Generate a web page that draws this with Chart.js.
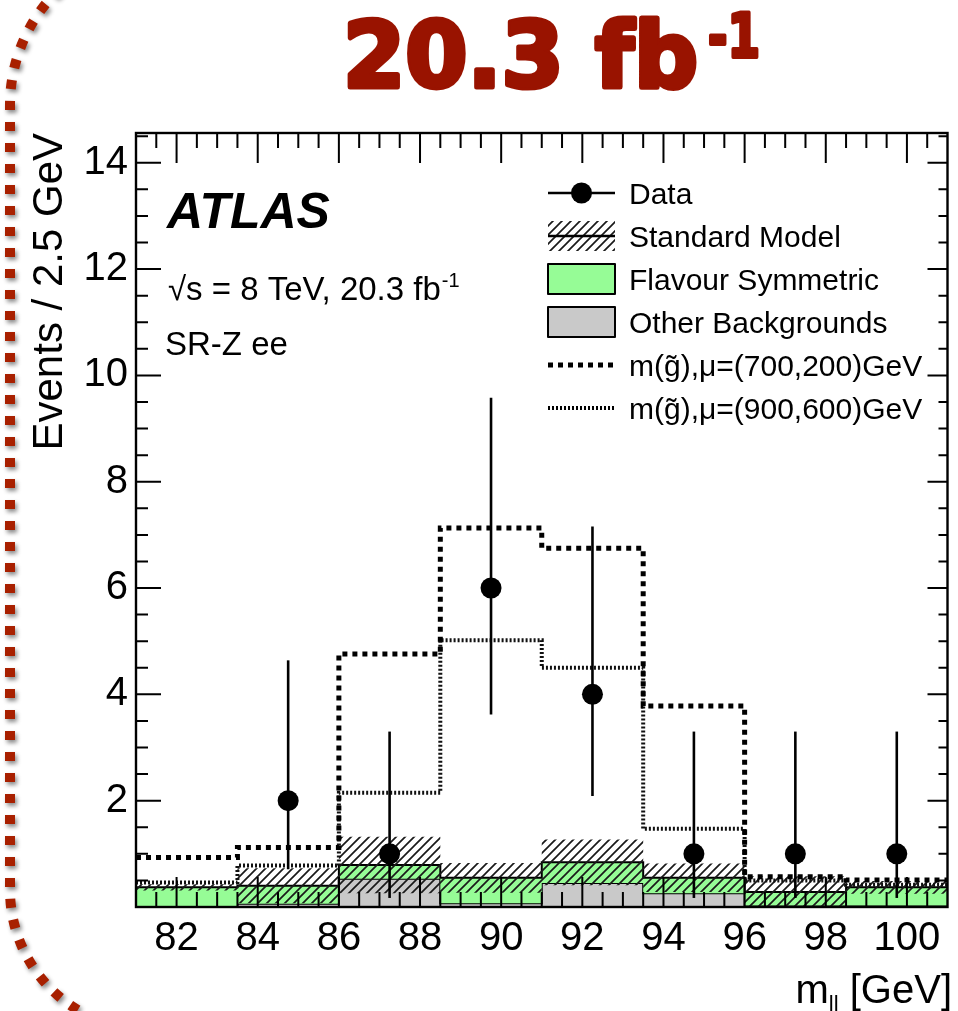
<!DOCTYPE html>
<html>
<head>
<meta charset="utf-8">
<script src="https://cdn.jsdelivr.net/npm/chart.js@4.4.0/dist/chart.umd.min.js"></script>
<style>
  html, body { margin: 0; padding: 0; background: #fff; }
  canvas { display: block; }
</style>
</head>
<body>
<canvas id="myChart" width="958" height="1011"></canvas>
<script>
// m_ll bins, 2.5 GeV wide
var binEdges = [81, 83.5, 86, 88.5, 91, 93.5, 96, 98.5, 101];

// observed events with poisson error band (lower / upper edge)
var dataCounts = [null, 2, 1, 6, 4, 1, 1, 1];
var dataLow = [null, 0.71, 0.17, 3.62, 2.09, 0.17, 0.17, 0.17];
var dataHigh = [null, 4.64, 3.30, 9.58, 7.16, 3.30, 3.30, 3.30];

// background stack
var otherBkg = [0.01, 0.06, 0.53, 0.07, 0.45, 0.26, 0.03, 0.03];
var flavourSym = [0.36, 0.34, 0.26, 0.48, 0.39, 0.29, 0.25, 0.34];
var smUncert = [0.06, 0.33, 0.53, 0.28, 0.43, 0.27, 0.30, 0.12];

// signal points
var sig700 = [0.93, 1.12, 4.76, 7.13, 6.75, 3.78, 0.57, 0.51];
var sig900 = [0.46, 0.78, 2.15, 5.02, 4.50, 1.47, 0.50, 0.42];

var xTicks = [82, 84, 86, 88, 90, 92, 94, 96, 98, 100];
var yTicks = [2, 4, 6, 8, 10, 12, 14];

var FONT = '"Liberation Sans", Arial, sans-serif';
var GREEN = 'rgb(150,252,150)';
var GREY = 'rgb(201,201,201)';

// histogram outline as a stepped line through the bin edges
function steps(vals) {
    var pts = [];
    for (var i = 0; i < vals.length; i++) {
        pts.push({x: binEdges[i], y: vals[i]});
    }
    pts.push({x: binEdges[vals.length], y: vals[vals.length - 1]});
    return pts;
}

function hatchPattern() {
    var c = document.createElement('canvas');
    c.width = 9; c.height = 9;
    var g = c.getContext('2d');
    g.strokeStyle = '#1a1a1a';
    g.lineWidth = 1.7;
    g.beginPath();
    g.moveTo(-1, 10); g.lineTo(10, -1);
    g.moveTo(-1, 1); g.lineTo(1, -1);
    g.moveTo(8, 10); g.lineTo(10, 8);
    g.stroke();
    return g.createPattern(c, 'repeat');
}
var hatch = hatchPattern();

var smTotal = otherBkg.map(function(v, i){ return v + flavourSym[i]; });
var smLow = smTotal.map(function(v, i){ return Math.max(v - smUncert[i], 0); });
var smHigh = smTotal.map(function(v, i){ return v + smUncert[i]; });

var dataPts = [];
for (var i = 0; i < dataCounts.length; i++) {
    if (dataCounts[i] !== null) {
        dataPts.push({x: (binEdges[i] + binEdges[i + 1]) / 2, y: dataCounts[i]});
    }
}

// ticks, frame, error bars
var frameDraw = {
    id: 'frameDraw',
    afterDatasetsDraw: function(chart) {
        var ctx = chart.ctx, a = chart.chartArea;
        var xs = chart.scales.x, ys = chart.scales.y;
        ctx.save();
        ctx.strokeStyle = '#000';

        ctx.lineWidth = 2.6;
        for (var i = 0; i < dataCounts.length; i++) {
            if (dataCounts[i] === null) continue;
            var px = xs.getPixelForValue((binEdges[i] + binEdges[i + 1]) / 2);
            ctx.beginPath();
            ctx.moveTo(px, ys.getPixelForValue(dataLow[i]));
            ctx.lineTo(px, ys.getPixelForValue(dataHigh[i]));
            ctx.stroke();
        }

        ctx.lineWidth = 2;
        ctx.beginPath();
        for (var v = 81.5; v < 101; v += 0.5) {
            var x = xs.getPixelForValue(v);
            var len = (v % 2 === 0) ? 30 : 15;
            ctx.moveTo(x, a.bottom); ctx.lineTo(x, a.bottom - len);
            ctx.moveTo(x, a.top); ctx.lineTo(x, a.top + len);
        }
        for (var w = 0.5; w < 14.56; w += 0.5) {
            var y = ys.getPixelForValue(w);
            var major = (w % 2 === 0);
            ctx.moveTo(a.left, y); ctx.lineTo(a.left + (major ? 25 : 12), y);
            ctx.moveTo(a.right, y); ctx.lineTo(a.right - (major ? 20 : 9), y);
        }
        ctx.stroke();

        ctx.lineWidth = 2.4;
        ctx.strokeRect(a.left, a.top, a.right - a.left, a.bottom - a.top);
        ctx.restore();
    },
    afterDraw: function(chart) {
        var ctx = chart.ctx;
        ctx.save();

        // dotted border on the left
        ctx.save();
        ctx.strokeStyle = '#a82000';
        ctx.lineWidth = 10;
        ctx.setLineDash([9, 12]);
        ctx.shadowColor = 'rgba(0,0,0,0.45)';
        ctx.shadowBlur = 4;
        ctx.shadowOffsetX = 2;
        ctx.shadowOffsetY = 3;
        ctx.beginPath();
        ctx.arc(171, 105, 161, 3.95, Math.PI, true);
        ctx.lineTo(10, 890);
        ctx.arc(150, 890, 140, Math.PI, 1.95, true);
        ctx.stroke();
        ctx.restore();

        // headline, outlined to thicken the bold face
        ctx.fillStyle = '#991300';
        ctx.strokeStyle = '#991300';
        ctx.lineJoin = 'round';
        ctx.textBaseline = 'alphabetic';
        ctx.textAlign = 'left';
        ctx.font = 'bold 90px "DejaVu Sans"';
        var tw = ctx.measureText('20.3 fb').width;
        ctx.save();
        ctx.translate(343, 87);
        ctx.scale(355 / tw, 1);
        ctx.lineWidth = 5;
        ctx.strokeText('20.3 fb', 0, 0);
        ctx.fillText('20.3 fb', 0, 0);
        ctx.restore();
        ctx.font = 'bold 60px "DejaVu Sans"';
        var sw = ctx.measureText('-1').width;
        ctx.save();
        ctx.translate(708, 57);
        ctx.scale(52 / sw, 1);
        ctx.lineWidth = 4;
        ctx.strokeText('-1', 0, 0);
        ctx.fillText('-1', 0, 0);
        ctx.restore();

        ctx.fillStyle = '#000';

        // y axis title
        ctx.save();
        ctx.translate(62, 133);
        ctx.rotate(-Math.PI / 2);
        ctx.textAlign = 'right';
        ctx.font = '42px ' + FONT;
        ctx.fillText('Events / 2.5 GeV', 0, 0);
        ctx.restore();

        // x axis title, m_ll [GeV]
        ctx.font = '40px ' + FONT;
        var wRest = ctx.measureText(' [GeV]').width;
        var wM = ctx.measureText('m').width;
        ctx.font = '22px ' + FONT;
        var wSub = ctx.measureText('ll').width;
        var xr = 952;
        ctx.font = '40px ' + FONT;
        ctx.fillText(' [GeV]', xr - wRest, 1003);
        ctx.fillText('m', xr - wRest - wSub - wM, 1003);
        ctx.font = '22px ' + FONT;
        ctx.fillText('ll', xr - wRest - wSub, 1011);

        // ATLAS label
        ctx.font = 'italic bold 50px ' + FONT;
        ctx.fillText('ATLAS', 167, 228);
        ctx.font = '33px ' + FONT;
        var t1 = '\u221As = 8 TeV, 20.3 fb';
        ctx.fillText(t1, 168, 300);
        var t1w = ctx.measureText(t1).width;
        ctx.font = '20px ' + FONT;
        ctx.fillText('-1', 168 + t1w + 1, 287);
        ctx.font = '33px ' + FONT;
        ctx.fillText('SR-Z ee', 165, 355);

        // legend
        var lx0 = 548, lx1 = 615, tx = 629;
        var rows = [193, 236, 279, 322, 365, 408];
        ctx.font = '30px ' + FONT;
        ctx.strokeStyle = '#000';

        ctx.lineWidth = 2.6;
        ctx.beginPath();
        ctx.moveTo(lx0, rows[0]); ctx.lineTo(lx1, rows[0]);
        ctx.stroke();
        ctx.beginPath();
        ctx.arc((lx0 + lx1) / 2, rows[0], 10.5, 0, Math.PI * 2);
        ctx.fill();
        ctx.fillText('Data', tx, rows[0] + 11);

        ctx.fillStyle = hatch;
        ctx.fillRect(lx0, rows[1] - 15, lx1 - lx0, 30);
        ctx.lineWidth = 2.4;
        ctx.beginPath();
        ctx.moveTo(lx0, rows[1]); ctx.lineTo(lx1, rows[1]);
        ctx.stroke();
        ctx.fillStyle = '#000';
        ctx.fillText('Standard Model', tx, rows[1] + 11);

        ctx.lineWidth = 2;
        ctx.fillStyle = GREEN;
        ctx.fillRect(lx0, rows[2] - 15, lx1 - lx0, 30);
        ctx.strokeRect(lx0, rows[2] - 15, lx1 - lx0, 30);
        ctx.fillStyle = '#000';
        ctx.fillText('Flavour Symmetric', tx, rows[2] + 11);

        ctx.fillStyle = GREY;
        ctx.fillRect(lx0, rows[3] - 15, lx1 - lx0, 30);
        ctx.strokeRect(lx0, rows[3] - 15, lx1 - lx0, 30);
        ctx.fillStyle = '#000';
        ctx.fillText('Other Backgrounds', tx, rows[3] + 11);

        ctx.lineWidth = 5;
        ctx.setLineDash([5, 5]);
        ctx.beginPath();
        ctx.moveTo(lx0, rows[4]); ctx.lineTo(lx1, rows[4]);
        ctx.stroke();
        ctx.lineWidth = 4;
        ctx.setLineDash([2, 2]);
        ctx.beginPath();
        ctx.moveTo(lx0, rows[5]); ctx.lineTo(lx1, rows[5]);
        ctx.stroke();
        ctx.setLineDash([]);
        ctx.fillText('m(g\u0303),\u03bc=(700,200)GeV', tx, rows[4] + 11);
        ctx.fillText('m(g\u0303),\u03bc=(900,600)GeV', tx, rows[5] + 11);

        ctx.restore();
    }
};

var ctx = document.getElementById('myChart').getContext('2d');
var chart = new Chart(ctx, {
    type: 'line',
    data: {
        datasets: [{
            label: 'Other Backgrounds',
            data: steps(otherBkg),
            stepped: true,
            borderColor: '#000',
            borderWidth: 2,
            backgroundColor: GREY,
            fill: 'origin',
            order: 6
        }, {
            label: 'Flavour Symmetric',
            data: steps(smTotal),
            stepped: true,
            borderColor: '#000',
            borderWidth: 2,
            backgroundColor: GREEN,
            fill: '-1',
            order: 5
        }, {
            label: 'SM low',
            data: steps(smLow),
            stepped: true,
            borderWidth: 0,
            borderColor: 'rgba(0,0,0,0)',
            fill: false,
            order: 4
        }, {
            label: 'Standard Model',
            data: steps(smHigh),
            stepped: true,
            borderWidth: 0,
            borderColor: 'rgba(0,0,0,0)',
            backgroundColor: hatch,
            fill: '-1',
            order: 4
        }, {
            label: 'm(g),mu=(900,600)GeV',
            data: steps(sig900),
            stepped: true,
            borderColor: '#111',
            borderWidth: 4,
            borderDash: [2, 2],
            fill: false,
            order: 3
        }, {
            label: 'm(g),mu=(700,200)GeV',
            data: steps(sig700),
            stepped: true,
            borderColor: '#000',
            borderWidth: 5,
            borderDash: [5, 5],
            fill: false,
            order: 2
        }, {
            label: 'Data',
            data: dataPts,
            showLine: false,
            pointRadius: 10.5,
            pointBackgroundColor: '#000',
            pointBorderWidth: 0,
            order: 1
        }]
    },
    options: {
        responsive: false,
        animation: false,
        layout: { padding: { top: 133, right: 4, left: 0, bottom: 0 } },
        elements: { point: { radius: 0 }, line: { tension: 0 } },
        plugins: { legend: { display: false }, tooltip: { enabled: false } },
        scales: {
            x: {
                type: 'linear',
                min: 81,
                max: 101,
                grid: { display: false, drawTicks: false },
                border: { display: false },
                afterBuildTicks: function(s) {
                    s.ticks = xTicks.map(function(v){ return {value: v}; });
                },
                afterFit: function(s) { s.height = 104; },
                ticks: {
                    font: { family: FONT, size: 40 },
                    color: '#000',
                    padding: 8,
                    maxRotation: 0,
                    autoSkip: false
                }
            },
            y: {
                type: 'linear',
                min: 0,
                max: 14.56,
                grid: { display: false, drawTicks: false },
                border: { display: false },
                afterBuildTicks: function(s) {
                    s.ticks = yTicks.map(function(v){ return {value: v}; });
                },
                afterFit: function(s) { s.width = 136; },
                ticks: {
                    font: { family: FONT, size: 40 },
                    color: '#000',
                    padding: 8,
                    autoSkip: false
                }
            }
        }
    },
    plugins: [frameDraw]
});
</script>
</body>
</html>
